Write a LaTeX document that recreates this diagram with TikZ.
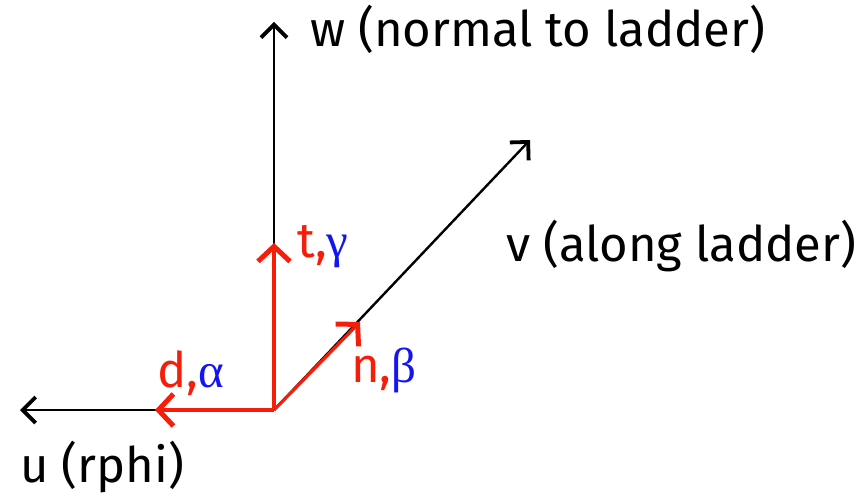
\documentclass[tikz,border=0pt]{standalone}
\usepackage{fontspec}
\setmainfont{Fira Sans}
\newfontfamily\grk{Liberation Serif}
\usetikzlibrary{arrows.meta}
\definecolor{myred}{RGB}{245,30,10}
\definecolor{myblue}{RGB}{20,20,240}
\tikzset{
  axis/.style={draw=black, line width=2.4pt, -{Straight Barb[length=13pt,width=26pt,line width=3.8pt]}},
  comp/.style={draw=myred, line width=3.2pt, -{Straight Barb[length=15pt,width=32pt,line width=5pt]}},
  lab/.style={font=\fontsize{49}{53}\selectfont, inner sep=0pt, anchor=base west},
}
\begin{document}
\begin{tikzpicture}[x=1pt,y=-1pt]
\useasboundingbox (0,0) rectangle (863,497);
\coordinate (o) at (274,410);
\coordinate (ue) at (20,410);
\coordinate (we) at (274,22);
\coordinate (ve) at (530,140);
\coordinate (de) at (155,410);
\coordinate (te) at (274,243);
\coordinate (ne) at (360,322);
\draw[axis] (o) -- (ue);
\draw[axis] (o) -- (we);
\draw[axis] (o) -- (ve);
\draw[comp] (o) -- (de);
\draw[comp] (o) -- (te);
\draw[comp] (o) -- (ne);
\node[lab] (wl) at (310,47) {w (normal to ladder)};
\node[lab] (vl) at (506,262) {v (along ladder)};
\node[lab] (ul) at (20,482) {u (rphi)};
\node[lab] (tl) at (297,258) {\textcolor{myred}{t,}\textcolor{myblue}{\grk γ}};
\node[lab] (dl) at (157,388) {\textcolor{myred}{d,}\textcolor{myblue}{\grk α}};
\node[lab] (nl) at (351,382) {\textcolor{myred}{n,}\textcolor{myblue}{\grk β}};
\end{tikzpicture}
\end{document}
